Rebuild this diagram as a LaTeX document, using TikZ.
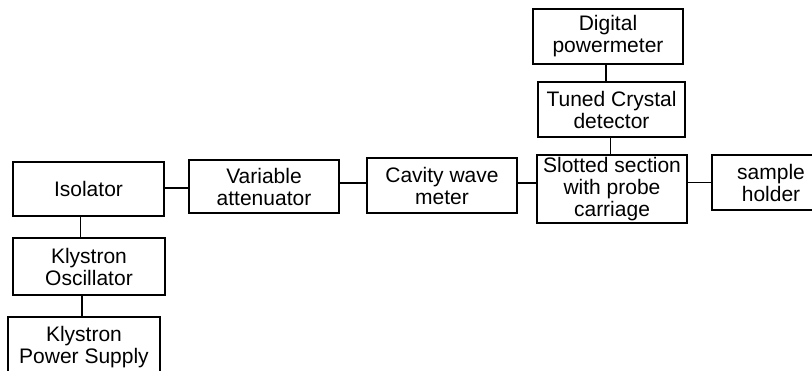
\documentclass[tikz,border=0pt]{standalone}
\usepackage{fontspec}
\setmainfont{Liberation Sans}
\tikzset{
  blk/.style={draw, line width=0.9pt, align=center, inner sep=1pt,
    font=\fontsize{10.5}{11}\selectfont},
  wire/.style={line width=0.9pt}
}
\begin{document}
\begin{tikzpicture}[x=0.5pt,y=-0.5pt]
\useasboundingbox (0,0) rectangle (812,370);
\clip (0,0) rectangle (812,370);

% left column
\node[blk, minimum width=75.5pt, minimum height=27pt] (iso) at (88.5,189) {Isolator};
\node[blk, minimum width=76pt, minimum height=28.5pt] (kosc) at (89,266.5) {Klystron\\Oscillator};
\node[blk, minimum width=76pt, minimum height=30.5pt] (kps) at (84,347.5) {Klystron\\Power Supply};

% main line
\node[blk, minimum width=75pt, minimum height=26.5pt] (var) at (264,186.5) {Variable\\attenuator};
\node[blk, minimum width=75pt, minimum height=27.5pt] (cav) at (442,185.5) {Cavity wave\\meter};
\node[blk, minimum width=75pt, minimum height=34pt] (slot) at (612,189) {Slotted section\\with probe\\carriage};
\node[blk, minimum width=59pt, minimum height=27.5pt] (samp) at (771,182.5) {sample\\holder};

% detector column
\node[blk, minimum width=73.5pt, minimum height=27.5pt] (tune) at (611.5,109.5) {Tuned Crystal\\detector};
\node[blk, minimum width=75pt, minimum height=27.5pt] (dig) at (608,36.5) {Digital\\powermeter};

\draw[wire] ([yshift=0.5pt]iso.east) -- ([yshift=0.5pt]iso.east -| var.west);
\draw[wire] ([yshift=1.75pt]var.east) -- ([yshift=1.75pt]var.east -| cav.west);
\draw[wire] ([yshift=1.25pt]cav.east) -- ([yshift=1.25pt]cav.east -| slot.west);
\draw[wire] (samp.west) -- (samp.west -| slot.east);
\draw[wire] ([xshift=-4pt]iso.south) -- ([xshift=-4pt]iso.south |- kosc.north);
\draw[wire] ([xshift=-3.5pt]kosc.south) -- ([xshift=-3.5pt]kosc.south |- kps.north);
\draw[wire] ([xshift=-1pt]dig.south) -- ([xshift=-1pt]dig.south |- tune.north);
\draw[wire] ([xshift=-0.5pt]tune.south) -- ([xshift=-0.5pt]tune.south |- slot.north);
\end{tikzpicture}
\end{document}
